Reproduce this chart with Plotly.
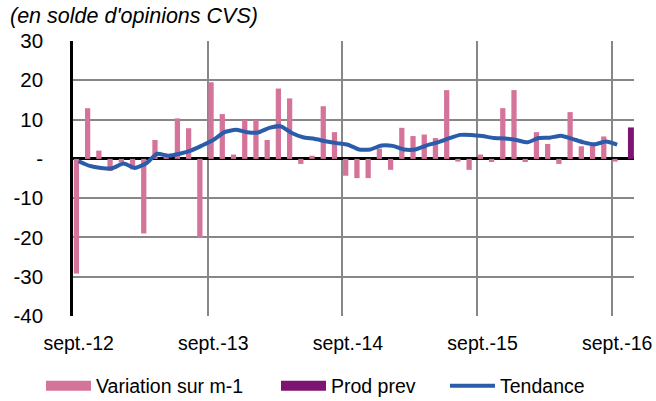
import plotly.graph_objects as go

# ---- data ----
months = ["sept.", "oct.", "nov.", "déc.", "janv.", "févr.", "mars", "avr.", "mai", "juin", "juil.", "août"]
categories = []
for k in range(50):
    yy = 12 + (8 + k) // 12
    categories.append(f"{months[k % 12]}-{yy}")

var_m1 = [-29.2, 12.9, 2.1, -3.1, -0.9, -2.7, -19.0, 4.8, 1.2, 10.3,
          7.8, -20.1, 19.5, 11.4, 1.1, 9.9, 9.9, 4.8, 17.9, 15.4,
          -1.3, 0.8, 13.4, 6.8, -4.3, -4.9, -4.9, 2.6, -2.8, 7.9,
          5.8, 6.2, 5.3, 17.5, -0.7, -2.8, 1.1, -0.8, 12.9, 17.5,
          -0.8, 6.8, 3.8, -1.3, 11.9, 3.2, 3.5, 5.7, -0.7]
prod_prev = [8.0]
tendance = [-0.6, -1.8, -2.3, -2.4, -1.2, -2.3, -1.2, 1.3, 0.8, 1.3,
            2.1, 3.4, 4.8, 6.8, 7.4, 6.8, 6.7, 7.9, 8.3, 6.6,
            5.5, 5.1, 4.5, 4.0, 3.6, 2.4, 2.4, 3.4, 3.3, 2.4,
            2.4, 3.4, 4.2, 5.2, 6.1, 6.1, 5.8, 5.3, 5.2, 4.8,
            4.2, 5.3, 5.4, 5.9, 5.1, 4.2, 3.7, 4.4, 3.6]

x_tick_labels = ["sept.-12", "sept.-13", "sept.-14", "sept.-15", "sept.-16"]
y_tick_vals = [-40, -30, -20, -10, 0, 10, 20, 30]
y_tick_text = ["-40", "-30", "-20", "-10", "-", "10", "20", "30"]

PINK = "#D5749B"
PURPLE = "#7E1472"
BLUE = "#2A5CAA"
FONT = "Liberation Sans, Arial, sans-serif"

x_var = list(range(len(var_m1)))
x_prev = [len(var_m1) + i for i in range(len(prod_prev))]
x_tick_vals = [categories.index(t) for t in x_tick_labels]

fig = go.Figure()
fig.add_trace(go.Bar(x=x_var, y=var_m1, marker_color=PINK, marker_line_width=0,
                     width=0.47, offset=-0.43, showlegend=False, name="Variation sur m-1"))
fig.add_trace(go.Bar(x=x_prev, y=prod_prev, marker_color=PURPLE, marker_line_width=0,
                     width=0.53, offset=-0.04, showlegend=False, name="Prod prev"))
fig.add_trace(go.Scatter(x=x_var, y=tendance, mode="lines",
                         line=dict(color=BLUE, width=4, shape="spline", smoothing=0.5),
                         showlegend=False, name="Tendance"))

# legend entries
fig.add_trace(go.Scatter(x=[None], y=[None], mode="lines", line=dict(color=PINK, width=11),
                         name="Variation sur m-1", legend="legend"))
fig.add_trace(go.Scatter(x=[None], y=[None], mode="lines", line=dict(color=PURPLE, width=11),
                         name="Prod prev", legend="legend2"))
fig.add_trace(go.Scatter(x=[None], y=[None], mode="lines", line=dict(color=BLUE, width=4),
                         name="Tendance", legend="legend3"))

L, R, T, B = 73, 22, 41, 85
W, H = 656, 401
pw = W - L - R
ph = H - T - B

def px_x(p):
    return (p - L) / pw

def px_y(p):
    return (H - B - p) / ph

leg_common = dict(orientation="h", yanchor="middle", xanchor="left",
                  font=dict(family=FONT, size=19.5, color="black"),
                  bgcolor="rgba(0,0,0,0)", itemwidth=45, tracegroupgap=0)

fig.update_layout(
    width=W, height=H,
    margin=dict(l=L, r=R, t=T, b=B, autoexpand=False),
    plot_bgcolor="white", paper_bgcolor="white",
    barmode="overlay",
    font=dict(family=FONT, size=19.5, color="black"),
    xaxis=dict(range=[-0.5, len(categories) - 0.5], tickmode="array", automargin=False,
               tickvals=x_tick_vals, ticktext=x_tick_labels, showgrid=False,
               zeroline=False, showline=False, ticks="", ticklabelstandoff=13,
               minor=dict(tickvals=[v - 0.5 for v in x_tick_vals[1:]], showgrid=True,
                          gridcolor="#878787", gridwidth=2, ticks=""),
               tickfont=dict(family=FONT, size=19.5, color="black")),
    yaxis=dict(range=[-40, 30], tickmode="array", tickvals=y_tick_vals, ticktext=y_tick_text,
               automargin=False,
               showgrid=True, gridcolor="#878787", gridwidth=2,
               zeroline=True, zerolinecolor="black", zerolinewidth=2.5,
               showline=True, linecolor="black", linewidth=2.5, ticks="",
               ticklabelstandoff=23,
               tickfont=dict(family=FONT, size=20.5, color="black")),
    legend=dict(x=px_x(41), y=px_y(386), **leg_common),
    legend2=dict(x=px_x(276), y=px_y(386), **leg_common),
    legend3=dict(x=px_x(445), y=px_y(386), **leg_common),
    annotations=[dict(text="<i>(en solde d'opinions CVS)</i>", xref="paper", yref="paper",
                      x=px_x(8), y=px_y(16), xanchor="left", yanchor="middle",
                      showarrow=False, font=dict(family=FONT, size=21.5, color="black"))],
)

fig.write_html("out.html", config={"displayModeBar": False},
               post_script="document.body.style.margin='0';document.body.style.overflow='hidden';")
